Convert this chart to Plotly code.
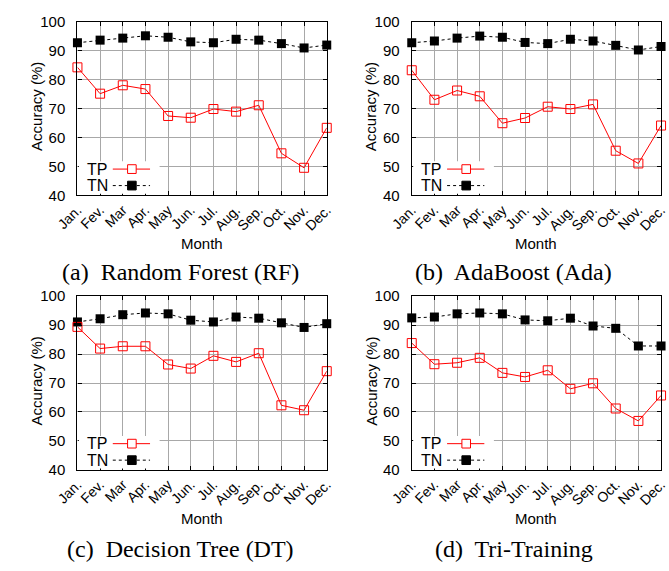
import plotly.graph_objects as go

months = ["Jan.", "Fev.", "Mar", "Apr.", "May", "Jun.", "Jul.", "Aug.", "Sep.", "Oct.", "Nov.", "Dec."]
y_ticks = [40, 50, 60, 70, 80, 90, 100]

rf_tp = [84.2, 75.1, 78.0, 76.7, 67.4, 66.8, 69.8, 68.9, 71.1, 54.5, 49.5, 63.3]
rf_tn = [92.7, 93.6, 94.3, 95.1, 94.6, 93.0, 92.7, 93.9, 93.6, 92.4, 90.9, 91.9]
ada_tp = [83.2, 73.0, 76.2, 74.2, 64.9, 66.7, 70.6, 69.8, 71.4, 55.4, 51.0, 64.1]
ada_tn = [92.7, 93.3, 94.3, 95.0, 94.6, 92.8, 92.4, 93.9, 93.3, 91.8, 90.2, 91.4]
dt_tp = [89.4, 81.9, 82.7, 82.7, 76.4, 75.0, 79.4, 77.3, 80.3, 62.3, 60.6, 74.1]
dt_tn = [91.1, 92.2, 93.6, 94.2, 93.9, 91.7, 91.1, 92.8, 92.4, 90.8, 89.2, 90.5]
tri_tp = [83.8, 76.5, 77.0, 78.7, 73.5, 72.1, 74.4, 68.0, 69.9, 61.2, 56.9, 65.7]
tri_tn = [92.5, 92.8, 93.9, 94.2, 93.9, 91.8, 91.5, 92.4, 89.7, 88.9, 82.8, 82.8]

captions = ["(a)  Random Forest (RF)", "(b)  AdaBoost (Ada)", "(c)  Decision Tree (DT)", "(d)  Tri-Training"]
panels = [(rf_tp, rf_tn), (ada_tp, ada_tn), (dt_tp, dt_tn), (tri_tp, tri_tn)]

W, H = 669, 571
# plot areas in pixels: (left, right, top, bottom)
boxes = [(57, 318, 13, 192), (407, 668, 13, 192), (57, 318, 296, 475), (407, 668, 296, 475)]
cap_x = [165, 514, 165, 514]
cap_y = [271, 271, 557, 557]

SANS = "Liberation Sans, Arial, sans-serif"
SERIF = "Liberation Serif, Times New Roman, serif"

fig = go.Figure()
layout = dict(width=W, height=H, margin=dict(l=0, r=0, t=0, b=0),
              paper_bgcolor="white", plot_bgcolor="white", showlegend=False)
annotations = []
shapes = []

for i, ((tp, tn), (l, r, t, b)) in enumerate(zip(panels, boxes)):
    n = "" if i == 0 else str(i + 1)
    xa, ya = "x" + n, "y" + n
    fig.add_trace(go.Scatter(x=months, y=tn, mode="lines+markers", name="TN",
                             xaxis=xa, yaxis=ya, cliponaxis=False,
                             line=dict(color="black", width=1, dash="dot"),
                             marker=dict(symbol="square", size=9, color="black")))
    fig.add_trace(go.Scatter(x=months, y=tp, mode="lines+markers", name="TP",
                             xaxis=xa, yaxis=ya, cliponaxis=False,
                             line=dict(color="#ff0000", width=1),
                             marker=dict(symbol="square-open", size=9, color="#ff0000",
                                         line=dict(width=1, color="#ff0000"))))
    common = dict(showline=True, linecolor="black", linewidth=1.3, mirror="ticks",
                  ticks="inside", ticklen=4, tickcolor="black",
                  showgrid=True, gridcolor="#a8a8a8", gridwidth=1.2,
                  zeroline=False)
    layout["xaxis" + n] = dict(domain=[l / W, r / W], anchor=ya, type="category",
                               range=[0, 11], tickangle=-45, ticklabelstandoff=0,
                               tickfont=dict(family=SANS, size=14, color="black"), **common)
    layout["yaxis" + n] = dict(domain=[1 - b / H, 1 - t / H], anchor=xa, range=[40, 100],
                               tickvals=y_ticks, ticklabelstandoff=8,
                               tickfont=dict(family=SANS, size=15, color="black"), **common)
    pw, ph = r - l, b - t
    xd, yd = xa + " domain", ya + " domain"
    # legend box (white, hides grid lines)
    shapes.append(dict(type="rect", xref=xd, yref=yd, x0=1.5 / pw, x1=(143 - 57) / pw,
                       y0=1.5 / ph, y1=(192 - 157) / ph, fillcolor="white",
                       line=dict(width=0), layer="above"))
    ytp = (192 - 165) / ph
    ytn = (192 - 182) / ph
    x0s, x1s, xm = (94 - 57) / pw, (133 - 57) / pw, (114 - 57) / pw
    hx, hy = 4.5 / pw, 4.5 / ph
    shapes.append(dict(type="line", xref=xd, yref=yd, x0=x0s, x1=x1s, y0=ytp, y1=ytp,
                       line=dict(color="#ff0000", width=1), layer="above"))
    shapes.append(dict(type="rect", xref=xd, yref=yd, x0=xm - hx, x1=xm + hx, y0=ytp - hy, y1=ytp + hy,
                       line=dict(color="#ff0000", width=1), fillcolor="white", layer="above"))
    shapes.append(dict(type="line", xref=xd, yref=yd, x0=x0s, x1=x1s, y0=ytn, y1=ytn,
                       line=dict(color="black", width=1, dash="dot"), layer="above"))
    shapes.append(dict(type="rect", xref=xd, yref=yd, x0=xm - hx, x1=xm + hx, y0=ytn - hy, y1=ytn + hy,
                       line=dict(color="black", width=1), fillcolor="black", layer="above"))
    annotations.append(dict(text="TP", xref=xd, yref=yd, x=(65 - 57) / pw, y=ytp,
                            xanchor="left", yanchor="middle", showarrow=False,
                            font=dict(family=SANS, size=16, color="black")))
    annotations.append(dict(text="TN", xref=xd, yref=yd, x=(65 - 57) / pw, y=ytn,
                            xanchor="left", yanchor="middle", showarrow=False,
                            font=dict(family=SANS, size=16, color="black")))
    # axis titles
    annotations.append(dict(text="Month", xref="paper", yref="paper", x=(l + r) / 2 / W,
                            y=1 - (b + 50) / H, xanchor="center", yanchor="middle",
                            showarrow=False, font=dict(family=SANS, size=15, color="black")))
    annotations.append(dict(text="Accuracy (%)", xref="paper", yref="paper", x=(l - 43) / W,
                            y=1 - ((t + b) / 2 - 2) / H, xanchor="center", yanchor="middle",
                            textangle=-90, showarrow=False,
                            font=dict(family=SANS, size=15, color="black")))
    annotations.append(dict(text=captions[i], xref="paper", yref="paper", x=cap_x[i] / W,
                            y=1 - cap_y[i] / H, xanchor="center", yanchor="middle",
                            showarrow=False, font=dict(family=SERIF, size=24, color="black")))

layout["annotations"] = annotations
layout["shapes"] = shapes
fig.update_layout(**layout)
fig.write_html("out.html", config={"displayModeBar": False},
               post_script="document.body.style.margin='0px';")
